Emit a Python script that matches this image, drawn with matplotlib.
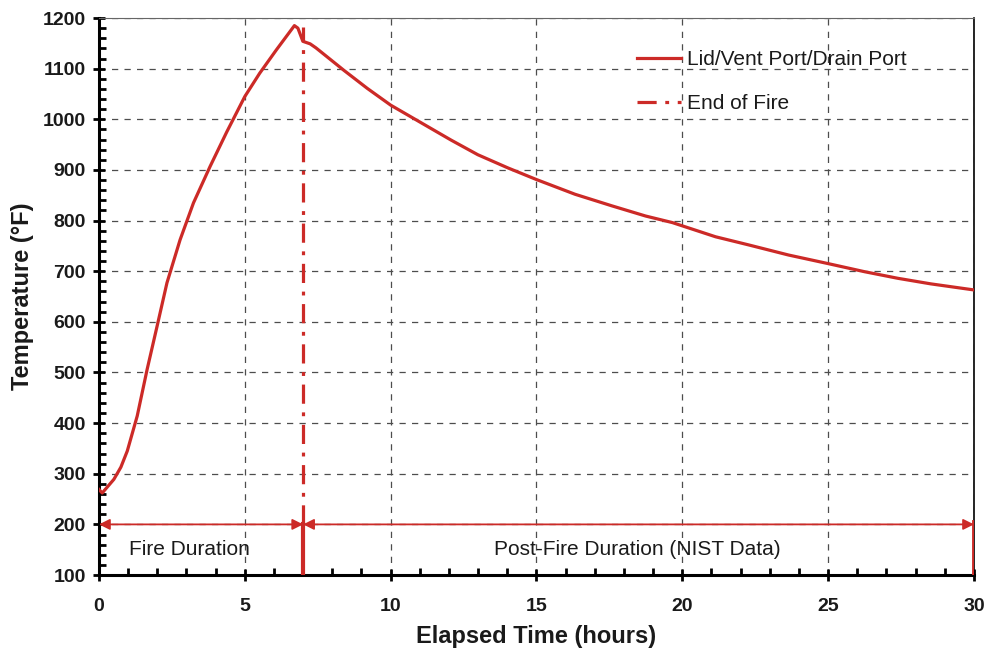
import numpy as np
import matplotlib
matplotlib.use('Agg')
import matplotlib.pyplot as plt
from matplotlib.ticker import MultipleLocator

plt.rcParams['font.family'] = ['Liberation Sans', 'DejaVu Sans']

# values
time_hr = [0, 0.11, 0.51, 0.75, 0.97, 1.31, 1.65, 1.99, 2.33, 2.78, 3.24, 3.81, 4.38,
           5.0, 5.51, 6.08, 6.70, 6.82, 6.99, 7.24, 7.44, 8.39, 9.2, 10.0, 11.26,
           12.07, 12.99, 14.02, 15.0, 16.32, 17.59, 18.74, 19.66, 21.14, 22.27,
           23.64, 25.0, 26.25, 27.39, 28.52, 30.0]
temp_f = [269, 262, 289, 313, 345, 414, 506, 591, 677, 762, 835, 907, 975,
          1045, 1091, 1137, 1185, 1180, 1154, 1149, 1141, 1097, 1061, 1028, 986,
          959, 930, 904, 881, 852, 829, 809, 796, 768, 752,
          732, 715, 699, 686, 675, 663]
end_of_fire = 7
end_time = 30
arrow_level = 200
fire_top = 1182

red = '#cc2a27'
ink = '#1a1a1a'

fig = plt.figure(figsize=(9.88, 6.53), dpi=100)
ax = fig.add_axes([0.1002, 0.1194, 0.8856, 0.853])

ax.plot(time_hr, temp_f, color=red, lw=2.3, label='Lid/Vent Port/Drain Port',
        solid_joinstyle='round', zorder=4)
ax.plot([end_of_fire, end_of_fire], [arrow_level, fire_top], color=red, lw=2.3,
        ls=(0, (6, 2.7, 1.2, 2.7)), label='End of Fire', zorder=4)

# duration markers
ax.plot([end_of_fire, end_of_fire], [100, arrow_level], color=red, lw=3, zorder=4)
ax.plot([end_time, end_time], [100, arrow_level + 5], color=red, lw=3.5, zorder=4)
for x0, x1 in [(0, end_of_fire), (end_of_fire, end_time)]:
    ax.annotate('', xy=(x0, arrow_level), xytext=(x1, arrow_level),
                arrowprops=dict(arrowstyle='<|-|>', color=red, lw=1.3,
                                mutation_scale=16, shrinkA=0, shrinkB=0), zorder=4)
ax.text(3.1, 150, 'Fire Duration', ha='center', va='center', fontsize=15, color=ink)
ax.text(18.45, 150, 'Post-Fire Duration (NIST Data)', ha='center', va='center',
        fontsize=15, color=ink)

ax.set_xlim(0, 30)
ax.set_ylim(100, 1200)
ax.xaxis.set_major_locator(MultipleLocator(5))
ax.xaxis.set_minor_locator(MultipleLocator(1))
ax.yaxis.set_major_locator(MultipleLocator(100))
ax.yaxis.set_minor_locator(MultipleLocator(20))

ax.grid(True, which='major', color='0.3', ls=(0, (5, 5)), lw=0.9)
ax.set_axisbelow(True)

ax.tick_params(which='major', direction='inout', length=9, width=2, labelsize=14,
               labelcolor=ink, pad=5)
ax.tick_params(axis='x', which='major', pad=12)
ax.tick_params(which='minor', direction='in', length=5, width=2)
ax.tick_params(top=False, right=False)
for lab in ax.get_xticklabels() + ax.get_yticklabels():
    lab.set_fontweight('bold')

for side in ['left', 'bottom']:
    ax.spines[side].set_linewidth(2.2)
ax.spines['right'].set_linewidth(1.2)
ax.spines['top'].set_linewidth(0.8)
ax.spines['top'].set_color('0.4')

ax.set_xlabel('Elapsed Time (hours)', fontsize=17, fontweight='bold', labelpad=7, color=ink)
ax.set_ylabel('Temperature (°F)', fontsize=17, fontweight='bold', labelpad=6, color=ink)

leg = ax.legend(loc='upper left', bbox_to_anchor=(0.615, 0.942), frameon=False,
                fontsize=15, handlelength=2.1, handletextpad=0.3, labelspacing=1.2,
                borderpad=0, borderaxespad=0)
for t in leg.get_texts():
    t.set_color(ink)

fig.savefig('out.png', dpi=100)
